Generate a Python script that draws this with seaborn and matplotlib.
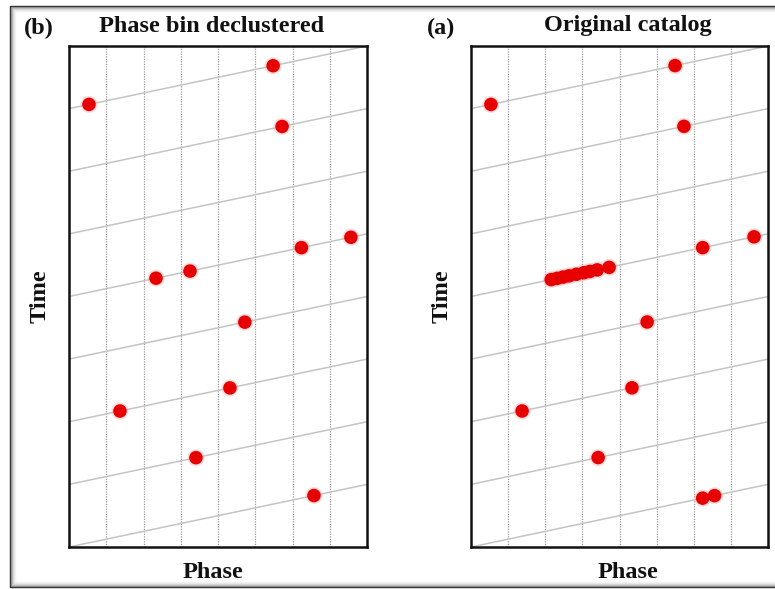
import numpy as np
import pandas as pd
import matplotlib
matplotlib.use("Agg")
import matplotlib.pyplot as plt
import seaborn as sns
from matplotlib.patches import Rectangle

# ---- data (phase in [0,1], cycle index = integer part of time) ----
n_cycles = 8
n_bins = 8

decl_phase = [0.067, 0.685, 0.715, 0.946, 0.780, 0.406, 0.292, 0.590, 0.171, 0.540, 0.426, 0.822]
decl_cycle = [7, 7, 6, 4, 4, 4, 4, 3, 2, 2, 1, 0]

orig_phase = [0.067, 0.687, 0.717, 0.953, 0.780,
              0.270, 0.290, 0.310, 0.330, 0.355, 0.380, 0.400, 0.425, 0.465,
              0.593, 0.172, 0.542, 0.428, 0.780, 0.820]
orig_cycle = [7, 7, 6, 4, 4,
              4, 4, 4, 4, 4, 4, 4, 4, 4,
              3, 2, 2, 1, 0, 0]

panels = [
    ("(b)", "Phase bin declustered", decl_phase, decl_cycle),
    ("(a)", "Original catalog", orig_phase, orig_cycle),
]

sns.set_theme(style="white")
plt.rcParams["font.family"] = ["Liberation Serif", "DejaVu Serif"]

W, H = 775, 589
fig = plt.figure(figsize=(W / 100, H / 100), dpi=100)
fig.patch.set_facecolor("white")

def fx(px):
    return px / W

def fy(py):
    return 1 - py / H

# outer picture frame with soft shadow
for i, c in enumerate(["#222222", "#8a8a8a", "#b5b5b5", "#d2d2d2", "#e6e6e6", "#f2f2f2"]):
    fig.patches.append(Rectangle((fx(10 + i), fy(587 - i)), fx(800), (587 - 6 - 2 * i) / H,
                                 transform=fig.transFigure, fill=False,
                                 edgecolor=c, linewidth=1.0, zorder=0))

axes_px = [(69, 367), (471, 768)]
title_cx = [212, 628]
label_cx = [39, 441]
time_cx = [40, 442]
phase_cx = [213, 628]
top_px, bot_px = 46, 547

for i, ((lab, title, ph, cy), (x0, x1)) in enumerate(zip(panels, axes_px)):
    ax = fig.add_axes([fx(x0), fy(bot_px), (x1 - x0) / W, (bot_px - top_px) / H])
    ax.set_xlim(0, 1)
    ax.set_ylim(0, n_cycles)
    # phase bins
    for b in range(1, n_bins):
        ax.axvline(b / n_bins, color="#9a9a9a", lw=0.9, ls=(0, (1, 1)), zorder=1)
    # time spiral lines
    for k in range(n_cycles):
        sns.lineplot(x=[0, 1], y=[k, k + 1], ax=ax, color="#c4c4c4", lw=1.1, zorder=1)
    df = pd.DataFrame({"phase": ph, "time": np.array(cy) + np.array(ph)})
    sns.scatterplot(data=df, x="phase", y="time", ax=ax, s=150, color="#ff9a9a",
                    edgecolor="none", alpha=0.35, zorder=2, legend=False)
    sns.scatterplot(data=df, x="phase", y="time", ax=ax, s=95, color="#e60000",
                    edgecolor="none", zorder=3, legend=False)
    ax.set_xticks([])
    ax.set_yticks([])
    ax.set_xlabel("")
    ax.set_ylabel("")
    for sp in ax.spines.values():
        sp.set_color("#111111")
        sp.set_linewidth(1.8)
        sp.set_visible(True)
    fig.text(fx(title_cx[i]), fy(26), title, ha="center", va="center",
             fontsize=17.5, fontweight="bold", color="#111111")
    fig.text(fx(label_cx[i]), fy(28), lab, ha="center", va="center",
             fontsize=17.5, fontweight="bold", color="#111111")
    fig.text(fx(time_cx[i]), fy(296), "Time", ha="center", va="center", rotation=90,
             fontsize=17.5, fontweight="bold", color="#111111")
    fig.text(fx(phase_cx[i]), fy(573), "Phase", ha="center", va="center",
             fontsize=17.5, fontweight="bold", color="#111111")

fig.savefig("out.png", dpi=100)
